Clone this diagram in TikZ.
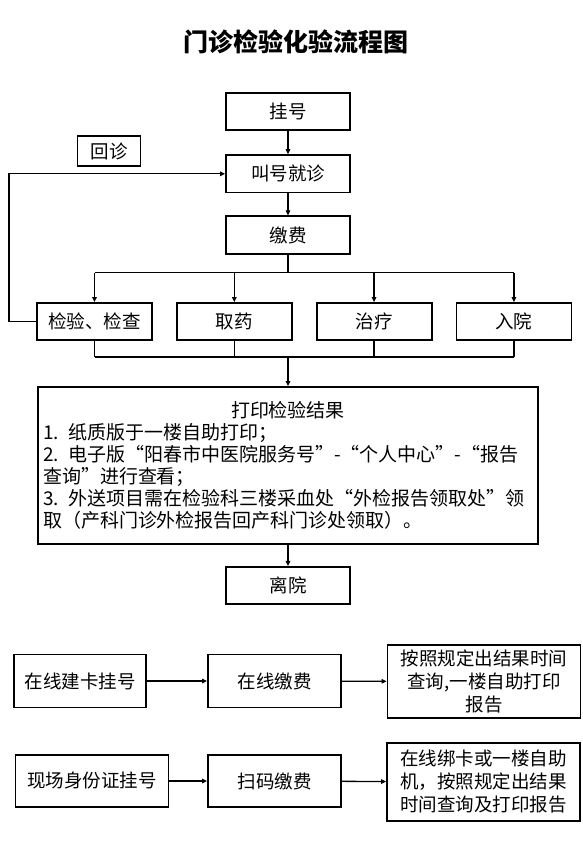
\documentclass[tikz,border=0pt]{standalone}
\usepackage{fontspec}
\setmainfont{Noto Sans CJK SC}
\usetikzlibrary{arrows.meta, positioning}

\begin{document}
\begin{tikzpicture}[
  x=1pt, y=-1pt,
  font=\fontsize{18.5}{22}\selectfont,
  >={Triangle[length=5pt, width=4.5pt]},
  node distance=23pt,
  box/.style={draw, line width=1.8pt, align=center, inner sep=2pt},
  mainbox/.style={box, minimum width=124pt, minimum height=37.5pt},
  branchbox/.style={box, minimum width=115pt, minimum height=37pt},
  onlinebox/.style={box, minimum width=133pt, minimum height=53pt},
  notebox/.style={box, minimum width=193pt, minimum height=75pt,
                  font=\fontsize{18.5}{23}\selectfont},
  resultbox/.style={box, align=left, text width=490pt, inner sep=5pt,
                    minimum height=157pt, font=\fontsize{19}{22}\selectfont},
  arr/.style={->, line width=1.3pt},
  link/.style={line width=1.3pt},
  ]
\useasboundingbox (0,0) rectangle (583,844);
% ---- title
\node[font=\fontsize{25}{30}\selectfont\bfseries] (title) at (295.5,42) {门诊检验化验流程图};
% ---- main column
\node[mainbox] (gh) at (288,111.5) {挂号};
\node[mainbox, below=23pt of gh] (jh) {叫号就诊};
\node[mainbox, below=22pt of jh] (jf) {缴费};
\node[box, minimum width=63pt, minimum height=30pt] (hz) at (109,151) {回诊};
% ---- branches
\node[branchbox] (jy) at (94.5,321.5) {检验、检查};
\node[branchbox, right=of jy] (qy) {取药};
\node[branchbox, right=of qy] (zl) {治疗};
\node[branchbox, right=of zl] (ry) {入院};
% ---- result + leave
\node[resultbox] (dy) at (288,465.5) {%
  \hfill 打印检验结果\hfill\null\\
  1. 纸质版于一楼自助打印；\\
  2. 电子版“阳春市中医院服务号”-“个人中心”-“报告\\
  查询”进行查看；\\
  3. 外送项目需在检验科三楼采血处“外检报告领取处”领\\
  取（产科门诊外检报告回产科门诊处领取）。};
\node[mainbox, below=21pt of dy] (ly) {离院};
% ---- online rows
\node[onlinebox, minimum width=132pt] (zx) at (80,681) {在线建卡挂号};
\node[onlinebox] (zj) at (274.5,681) {在线缴费};
\node[notebox, minimum height=73pt] (r1) at (484,681.5)
  {按照规定出结果时间\\查询,一楼自助打印\\报告};
\node[onlinebox, minimum width=153pt, minimum height=52pt] (xc) at (92,781) {现场身份证挂号};
\node[onlinebox, minimum height=52pt] (sm) at (274.5,781) {扫码缴费};
\node[notebox, minimum height=78pt] (r2) at (483.5,782)
  {在线绑卡或一楼自助\\机，按照规定出结果\\时间查询及打印报告};
% arrows main column
\draw[arr] (gh) -- (jh);
\draw[arr] (jh) -- (jf);
% split to branches
\draw[link] (jf.south) -- ++(0,18) coordinate (split);
\draw[link] (jy.north |- split) -- (ry.north |- split);
\foreach \n in {jy,qy,zl,ry}
  \draw[arr] (\n.north |- split) -- (\n.north);
% back to doctor
\draw[arr] (jy.west) -- ++(-27,0) |- (jh.west);
% merge branches
\coordinate (merge) at (288,357);
\foreach \n in {jy,qy,zl,ry}
  \draw[link] (\n.south) -- (\n.south |- merge);
\draw[link] (jy.south |- merge) -- (ry.south |- merge);
\draw[arr] (merge) -- (dy.north);
\draw[arr] (dy) -- (ly);
% arrows online rows
\draw[arr] (zx) -- (zj);
\draw[arr] (zj) -- (r1);
\draw[arr] (xc) -- (sm);
\draw[arr] (sm) -- (r2);
\end{tikzpicture}
\end{document}
